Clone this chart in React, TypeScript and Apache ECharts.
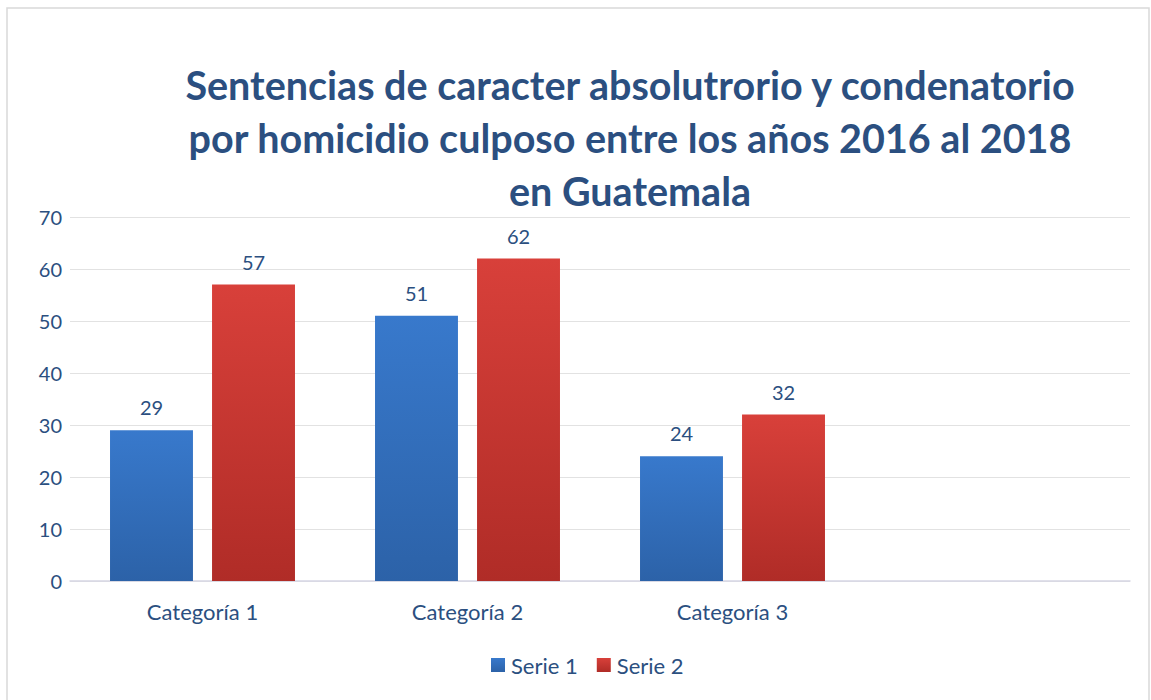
import React, { useEffect, useRef } from "react";
import * as echarts from "echarts";

const titleLines = [
  "Sentencias de caracter absolutrorio y condenatorio",
  "por homicidio culposo entre los años 2016 al 2018",
  "en Guatemala",
];
const categories = ["Categoría 1", "Categoría 2", "Categoría 3", ""];
const serie1 = [29, 51, 24, null];
const serie2 = [57, 62, 32, null];
const seriesNames = ["Serie 1", "Serie 2"];

const TEXT = "#2b4f80";
const FONT = "Lato, 'Open Sans', sans-serif";

export default function App() {
  const ref = useRef<HTMLDivElement>(null);
  useEffect(() => {
    document.body.style.margin = "0";
    const chart = echarts.init(ref.current!, undefined, { renderer: "svg" });
    const blue = new echarts.graphic.LinearGradient(0, 0, 0, 1, [
      { offset: 0, color: "#3879cc" },
      { offset: 1, color: "#2c62a8" },
    ]);
    const red = new echarts.graphic.LinearGradient(0, 0, 0, 1, [
      { offset: 0, color: "#d8403a" },
      { offset: 1, color: "#b02c27" },
    ]);
    const label = {
      show: true,
      position: "top",
      distance: 13,
      fontFamily: FONT,
      fontSize: 20,
      color: TEXT,
    };
    chart.setOption({
      animation: false,
      backgroundColor: "#ffffff",
      textStyle: { fontFamily: FONT },
      graphic: [
        {
          type: "rect",
          shape: { x: 7, y: 8, width: 1142, height: 700 },
          style: { fill: "none", stroke: "#d9d9d9", lineWidth: 1.5 },
          silent: true,
        },
      ],
      title: {
        text: titleLines.join("\n"),
        left: 625,
        top: 53,
        textAlign: "center",
        textStyle: {
          fontFamily: FONT,
          fontSize: 39.5,
          fontWeight: "bold",
          color: TEXT,
          lineHeight: 53,
        },
      },
      grid: { left: 70, right: 21, top: 217, bottom: 119, containLabel: false },
      legend: {
        data: seriesNames,
        left: 486,
        top: 649,
        icon: "rect",
        itemWidth: 14,
        itemHeight: 14,
        itemGap: 19,
        textStyle: { fontFamily: FONT, fontSize: 22, color: TEXT, padding: [0, 0, 0, 1] },
      },
      xAxis: {
        type: "category",
        data: categories,
        axisTick: { show: false },
        axisLine: { lineStyle: { color: "#d6d6e4", width: 1.5 } },
        axisLabel: { fontFamily: FONT, fontSize: 22, color: TEXT, margin: 19 },
      },
      yAxis: {
        type: "value",
        min: 0,
        max: 70,
        interval: 10,
        axisLine: { show: false },
        axisTick: { show: false },
        splitLine: { lineStyle: { color: "#e2e2e2", width: 1 } },
        axisLabel: { fontFamily: FONT, fontSize: 20, color: TEXT, margin: 8 },
      },
      series: [
        {
          name: seriesNames[0],
          type: "bar",
          data: serie1,
          barWidth: "31.3%",
          barGap: "23%",
          itemStyle: { color: blue },
          label,
        },
        {
          name: seriesNames[1],
          type: "bar",
          data: serie2,
          barWidth: "31.3%",
          barGap: "23%",
          itemStyle: { color: red },
          label,
        },
      ],
    });
    return () => chart.dispose();
  }, []);
  return <div ref={ref} style={{ width: 1151, height: 700 }} />;
}
